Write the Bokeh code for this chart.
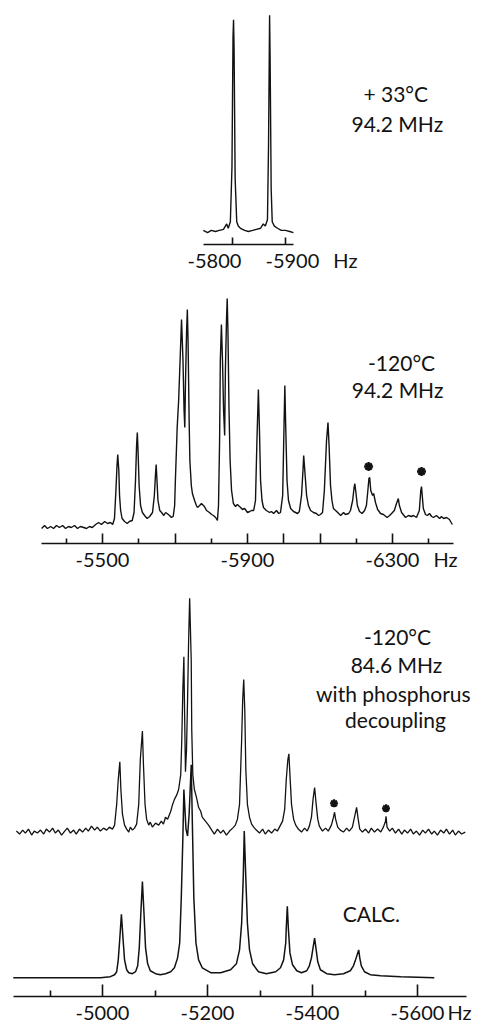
from bokeh.plotting import figure
from bokeh.models import Range1d, FixedTicker, Label, LinearAxis
from bokeh.layouts import column
from bokeh.embed import file_html
from bokeh.resources import INLINE

# ---------------- data ----------------
# Top spectrum: +33 C, 94.2 MHz
top_hz = [-5745, -5753, -5760, -5768, -5775, -5783, -5789, -5792, -5796, -5799, -5801, -5802,
          -5803, -5805, -5808, -5811, -5815, -5823, -5830, -5838, -5845, -5853, -5858, -5862,
          -5866, -5868, -5870, -5871, -5873, -5875, -5879, -5885, -5892, -5900, -5908, -5915]
top_int = [1, 0, 1, 0.5, 1, 1.5, 4, 2, 5, 30, 90, 98,
           85, 25, 5, 3, 2, 1, 0.5, 1, 1.5, 2, 4, 3,
           6, 40, 100, 80, 20, 5, 3, 2, 1, 1, 0.5, 0]

# Middle spectrum: -120 C, 94.2 MHz
mid_hz = [-5332, -5340, -5348, -5357, -5365, -5373, -5381, -5390, -5398, -5406, -5414, -5423,
          -5431, -5439, -5448, -5456, -5464, -5472, -5481, -5489, -5497, -5506, -5514, -5522,
          -5528, -5533, -5537, -5540, -5542, -5545, -5547, -5550, -5554, -5561, -5568, -5574,
          -5582, -5587, -5591, -5594, -5596, -5598, -5601, -5605, -5610, -5616, -5623, -5630,
          -5638, -5643, -5646, -5648, -5650, -5653, -5658, -5663, -5669, -5674, -5678, -5685,
          -5690, -5695, -5699, -5701, -5706, -5710, -5714, -5718, -5722, -5725, -5727, -5729,
          -5732, -5734, -5736, -5739, -5741, -5745, -5748, -5754, -5759, -5762, -5768, -5773,
          -5781, -5787, -5795, -5801, -5806, -5812, -5817, -5820, -5823, -5825, -5828, -5831,
          -5834, -5837, -5839, -5842, -5844, -5846, -5849, -5852, -5856, -5861, -5867, -5872,
          -5881, -5886, -5892, -5900, -5906, -5911, -5917, -5922, -5926, -5930, -5933, -5936,
          -5940, -5944, -5952, -5961, -5966, -5972, -5980, -5986, -5991, -5997, -6001, -6003,
          -6005, -6009, -6013, -6019, -6027, -6038, -6043, -6049, -6053, -6055, -6058, -6063,
          -6068, -6074, -6082, -6090, -6096, -6101, -6107, -6112, -6118, -6122, -6125, -6129,
          -6133, -6137, -6146, -6157, -6165, -6170, -6179, -6184, -6190, -6194, -6196, -6199,
          -6203, -6209, -6216, -6223, -6228, -6232, -6235, -6237, -6240, -6245, -6248, -6253,
          -6259, -6267, -6275, -6285, -6292, -6300, -6305, -6311, -6316, -6319, -6325, -6336,
          -6344, -6352, -6358, -6366, -6374, -6378, -6380, -6382, -6385, -6391, -6396, -6402,
          -6408, -6413, -6421, -6430, -6435, -6441, -6449, -6457, -6465]
mid_int = [-1, 2, -1, 1, -1, 2, 0, 2, -1, 1, 0, 2,
           -1, 1, 0, -1, 1, 0, 3, 5, 3, 6, 4, 5,
           3, 9, 37, 62, 73, 57, 32, 17, 9, 6, 4, 6,
           7, 15, 47, 82, 95, 77, 42, 22, 15, 12, 9, 11,
           15, 32, 52, 63, 49, 27, 17, 15, 12, 15, 14, 12,
           10, 11, 22, 47, 100, 127, 167, 208, 167, 117, 100, 147,
           197, 218, 187, 107, 67, 42, 34, 27, 22, 20, 22, 24,
           21, 17, 15, 13, 12, 10, 7, 22, 87, 167, 203, 167,
           117, 92, 157, 207, 229, 197, 117, 67, 37, 24, 21, 23,
           20, 18, 19, 15, 16, 17, 17, 27, 87, 138, 97, 47,
           27, 20, 17, 15, 16, 14, 17, 14, 15, 32, 107, 142,
           107, 47, 27, 19, 16, 14, 16, 32, 57, 72, 57, 32,
           22, 17, 15, 14, 12, 13, 15, 37, 87, 105, 82, 42,
           27, 19, 16, 12, 15, 13, 14, 17, 27, 40, 44, 35,
           22, 16, 14, 17, 22, 37, 49, 50, 37, 32, 34, 25,
           18, 14, 13, 10, 12, 15, 17, 24, 29, 22, 15, 10,
           12, 11, 12, 10, 17, 37, 41, 32, 19, 13, 12, 14,
           11, 10, 12, 9, 11, 9, 10, 8, 3]
mid_star_hz = [-6234, -6380]
mid_star_int = [61, 56]

# Bottom experimental spectrum: -120 C, 84.6 MHz, phosphorus decoupled
exp_hz = [-4836, -4842, -4848, -4853, -4859, -4865, -4870, -4876, -4882, -4888, -4893, -4899,
          -4905, -4910, -4916, -4922, -4928, -4933, -4939, -4945, -4950, -4956, -4962, -4968,
          -4973, -4979, -4985, -4990, -4996, -5002, -5008, -5013, -5019, -5023, -5027, -5030,
          -5033, -5035, -5038, -5042, -5046, -5050, -5053, -5057, -5061, -5065, -5069, -5072,
          -5076, -5078, -5081, -5084, -5088, -5091, -5095, -5101, -5107, -5112, -5116, -5120,
          -5124, -5130, -5133, -5137, -5141, -5145, -5149, -5151, -5153, -5155, -5156, -5158,
          -5160, -5162, -5164, -5166, -5169, -5170, -5172, -5175, -5179, -5183, -5187, -5190,
          -5196, -5202, -5208, -5213, -5219, -5225, -5230, -5236, -5242, -5248, -5253, -5257,
          -5261, -5265, -5267, -5269, -5271, -5273, -5276, -5280, -5284, -5288, -5293, -5299,
          -5305, -5310, -5316, -5322, -5328, -5333, -5339, -5343, -5347, -5350, -5353, -5355,
          -5357, -5360, -5364, -5368, -5373, -5379, -5385, -5390, -5394, -5398, -5401, -5404,
          -5407, -5410, -5413, -5419, -5425, -5430, -5436, -5440, -5442, -5444, -5448, -5453,
          -5459, -5465, -5470, -5476, -5480, -5484, -5487, -5490, -5495, -5501, -5507, -5512,
          -5518, -5524, -5530, -5535, -5539, -5540, -5542, -5547, -5552, -5558, -5564, -5570,
          -5575, -5581, -5587, -5592, -5598, -5604, -5610, -5615, -5621, -5627, -5632, -5638,
          -5644, -5650, -5655, -5661, -5667, -5672, -5678, -5684, -5691]
exp_int = [1, -2, 2, -1, 3, -3, 1, -1, 2, -2, 3, 0,
           4, -1, 2, -3, 1, 4, -1, 2, -2, 3, 0, 4,
           1, 6, 2, 5, 1, 4, 2, 5, 3, 7, 28, 53,
           71, 43, 18, 7, 3, 0, 5, 2, 4, 8, 28, 73,
           102, 68, 28, 13, 7, 10, 5, 9, 7, 11, 8, 15,
           13, 21, 27, 33, 37, 43, 58, 93, 143, 177, 133, 61,
           83, 133, 193, 236, 173, 103, 58, 43, 35, 25, 21, 15,
           11, 7, 2, -2, 3, -1, 2, -3, 1, 4, 7, 13,
           28, 93, 133, 154, 123, 63, 28, 15, 8, 5, 2, -1,
           3, -2, 2, -1, 3, 1, 7, 11, 23, 53, 73, 79,
           58, 28, 13, 7, 3, 0, 4, 1, 6, 15, 33, 45,
           28, 13, 6, 1, 4, 1, 7, 15, 20, 13, 5, 2,
           0, 4, 1, 5, 15, 25, 13, 3, 0, 3, -1, 4,
           0, 3, 0, 5, 11, 16, 5, 1, 4, -1, 3, -2,
           2, -1, 3, -2, 1, -3, 2, -1, 3, -2, 1, -3,
           2, -1, 3, -2, 2, -3, 1, -2, 0]
exp_star_hz = [-5441, -5540]
exp_star_int = [29, 24]

# Calculated spectrum
calc_hz = [-4830, -4996, -5015, -5023, -5027, -5030, -5033, -5036, -5039, -5042, -5046, -5050,
           -5057, -5063, -5067, -5070, -5073, -5076, -5079, -5082, -5086, -5091, -5101, -5110,
           -5120, -5130, -5137, -5143, -5147, -5150, -5153, -5155, -5159, -5162, -5165, -5169,
           -5171, -5174, -5178, -5183, -5190, -5206, -5225, -5244, -5255, -5261, -5265, -5268,
           -5270, -5273, -5276, -5280, -5286, -5297, -5312, -5330, -5339, -5345, -5349, -5350,
           -5352, -5354, -5357, -5362, -5370, -5379, -5389, -5394, -5398, -5401, -5404, -5407,
           -5410, -5415, -5427, -5442, -5459, -5472, -5478, -5482, -5485, -5488, -5490, -5493,
           -5499, -5510, -5530, -5568, -5632]
calc_int = [0, 0, 1, 3, 6, 18, 40, 64, 40, 18, 8, 5,
            4, 6, 12, 30, 65, 97, 65, 30, 14, 7, 4, 3,
            4, 6, 10, 20, 35, 80, 140, 190, 150, 143, 165, 215,
            160, 80, 35, 18, 10, 5, 5, 8, 14, 28, 55, 100,
            148, 100, 55, 28, 14, 6, 4, 6, 10, 18, 35, 50,
            72, 50, 25, 13, 7, 5, 7, 12, 20, 30, 40, 28,
            16, 8, 4, 3, 4, 7, 12, 18, 23, 28, 20, 12,
            6, 3, 2, 1, 0]

# Axis ticks (long / short) and printed tick labels
top_ticks = [-5800, -5900]
top_label_pos = [-5766, -5913]          # where the two labels are printed
top_label_txt = ["-5800", "-5900"]
mid_long = [-5500, -5700, -5900, -6000, -6100, -6300]
mid_short = [-5400, -5600, -5800, -6200, -6400]
mid_label_pos = [-5500, -5900, -6300]
mid_label_txt = ["-5500", "-5900", "-6300"]
bot_long = [-5000, -5200, -5400, -5600]
bot_short = [-4900, -5100, -5300, -5500]
bot_label_pos = [-5000, -5200, -5400, -5600]
bot_label_txt = ["-5000", "-5200", "-5400", "-5600"]
UNIT = "Hz"

assert len(top_hz) == len(top_int)
assert len(mid_hz) == len(mid_int), (len(mid_hz), len(mid_int))
assert len(exp_hz) == len(exp_int), (len(exp_hz), len(exp_int))
assert len(calc_hz) == len(calc_int), (len(calc_hz), len(calc_int))

# ---------------- styling ----------------
FONT = "Lato"
INK = "#121212"
TICK_FS = "20px"
TEXT_FS = "21px"
W = 483


def base_fig(height, xr, yr, border_bottom):
    p = figure(width=W, height=height, x_range=Range1d(*xr), y_range=Range1d(*yr),
               output_backend="svg", toolbar_location=None,
               x_axis_location=None, y_axis_location=None,
               min_border_left=0, min_border_right=0, min_border_top=0,
               min_border_bottom=border_bottom)
    p.outline_line_color = None
    p.xgrid.visible = False
    p.ygrid.visible = False
    p.background_fill_color = "white"
    p.border_fill_color = "white"
    return p


def tick_axis(p, bounds, ticks, length, with_line):
    # an axis used only for its line and inward tick marks (no labels)
    ax = LinearAxis(bounds=bounds, ticker=FixedTicker(ticks=[], minor_ticks=ticks))
    ax.axis_line_color = INK if with_line else None
    ax.axis_line_width = 1.7
    ax.major_tick_line_color = None
    ax.major_tick_in = 0
    ax.major_tick_out = 0
    ax.minor_tick_line_color = INK
    ax.minor_tick_line_width = 1.6
    ax.minor_tick_in = length
    ax.minor_tick_out = 0
    ax.major_label_standoff = 0
    ax.axis_label_standoff = 0
    p.add_layout(ax, "below")


def label_axis(p, pos, txt, unit_pos):
    lab = LinearAxis(ticker=FixedTicker(ticks=pos + [unit_pos], minor_ticks=[]))
    lab.axis_line_color = None
    lab.major_tick_line_color = None
    lab.minor_tick_line_color = None
    lab.major_tick_in = 0
    lab.major_tick_out = 0
    lab.minor_tick_in = 0
    lab.minor_tick_out = 0
    lab.major_label_standoff = 3
    lab.major_label_text_font = FONT
    lab.major_label_text_font_size = TICK_FS
    lab.major_label_text_color = INK
    ov = dict(zip(pos, txt))
    ov[unit_pos] = UNIT
    lab.major_label_overrides = ov
    p.add_layout(lab, "below")


def text(p, x, y, s):
    p.add_layout(Label(x=x, y=y, text=s, text_font=FONT, text_font_size=TEXT_FS,
                       text_color=INK, text_align="center", text_baseline="middle"))


# ---------------- panel 1 ----------------
p1 = base_fig(274, (-5362.3, -6273.6), (-5.48, 106.85), 28)
p1.line(top_hz, top_int, line_color=INK, line_width=1.4)
tick_axis(p1, (-5745, -5915), top_ticks, 7, True)
label_axis(p1, top_label_pos, top_label_txt, -6013)
text(p1, -6108, 63.9, "+ 33°C")
text(p1, -6111, 50.2, "94.2 MHz")

# ---------------- panel 2 ----------------
p2 = base_fig(302, (-5218.6, -6551.0), (-16, 253), 33)
p2.line(mid_hz, mid_int, line_color=INK, line_width=1.4)
p2.scatter(mid_star_hz, mid_star_int, marker="asterisk", size=9, line_width=2.4, color=INK)
tick_axis(p2, (-5332, -6468), mid_long, 10, True)
tick_axis(p2, (-5332, -6468), mid_short, 5, False)
label_axis(p2, mid_label_pos, mid_label_txt, -6446)
text(p2, -6325, 165, "-120°C")
text(p2, -6314, 138, "94.2 MHz")

# ---------------- panel 3 ----------------
p3 = base_fig(450, (-4805.7, -5725.7), (-19, 405), 27)
p3.extra_y_ranges = {"exp": Range1d(-166, 258)}
p3.line(calc_hz, calc_int, line_color=INK, line_width=1.5)
p3.line(exp_hz, exp_int, line_color=INK, line_width=1.3, y_range_name="exp")
p3.scatter(exp_star_hz, exp_star_int, marker="asterisk", size=8, line_width=2.2, color=INK,
           y_range_name="exp")
tick_axis(p3, (-4830, -5693), bot_long, 12, True)
tick_axis(p3, (-4830, -5693), bot_short, 6, False)
label_axis(p3, bot_label_pos, bot_label_txt, -5680)
text(p3, -5562, 344, "-120°C")
text(p3, -5560, 316, "84.6 MHz")
text(p3, -5554, 287, "with phosphorus")
text(p3, -5558, 261, "decoupling")
text(p3, -5512, 65, "CALC.")

layout = column(p1, p2, p3, spacing=0)
open("out.html", "w").write(file_html(layout, INLINE))
